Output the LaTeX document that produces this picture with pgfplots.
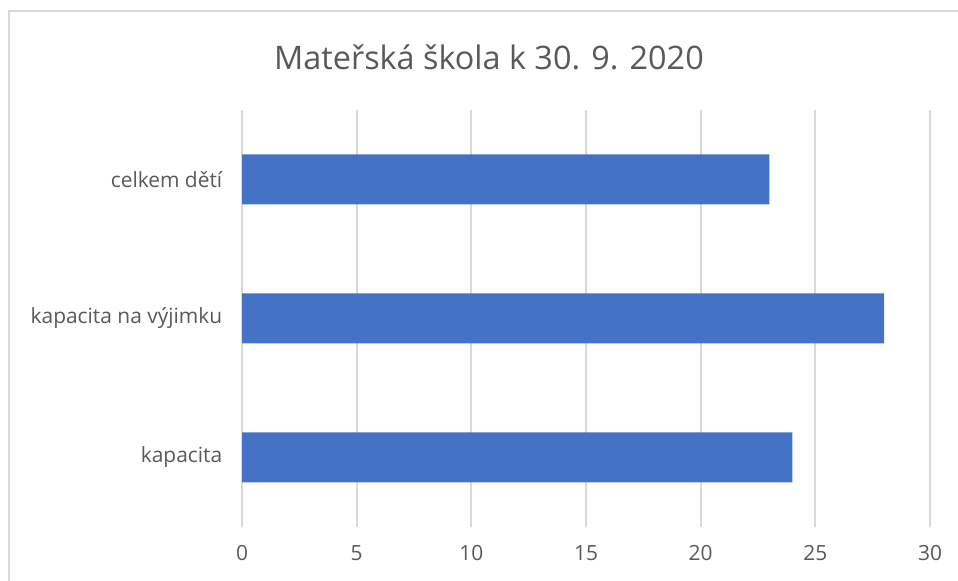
\documentclass[border=0pt]{standalone}
\usepackage{fontspec}
\setmainfont{Open Sans}
\usepackage{pgfplots}
\pgfplotsset{compat=1.18}
\definecolor{gridgray}{HTML}{D9D9D9}
\definecolor{txtgray}{HTML}{595959}
\definecolor{barblue}{HTML}{4472C4}
\begin{document}
\begin{tikzpicture}[x=1bp,y=1bp]
\path[use as bounding box] (0,0) rectangle (958,581);
\draw[color=gridgray, line width=2.5bp] (9,0) -- (9,570) -- (958,570);
\node[anchor=base, text=txtgray, font=\fontsize{32.5}{36}\selectfont, inner sep=0pt] at (489,511) {Mateřská škola k 30. 9. 2020};
\begin{axis}[
  at={(242bp,54bp)}, anchor=south west,
  scale only axis, width=688bp, height=417bp,
  xbar, bar width=50bp,
  xmin=0, xmax=30, ymin=-0.5, ymax=2.5,
  xtick={0,5,10,15,20,25,30},
  ytick={0,1,2},
  yticklabels={kapacita, kapacita na výjimku, celkem dětí},
  xmajorgrids, grid style={gridgray, line width=2bp},
  axis line style={draw=none}, tick style={draw=none},
  /pgf/number format/assume math mode=true,
  ticklabel style={text=txtgray, font=\fontsize{21}{24}\selectfont},
  xticklabel style={yshift=-15bp},
  yticklabel style={xshift=-12bp},
]
\addplot[fill=barblue, draw=none] coordinates {(24,0) (28,1) (23,2)};
\end{axis}
\end{tikzpicture}
\end{document}
